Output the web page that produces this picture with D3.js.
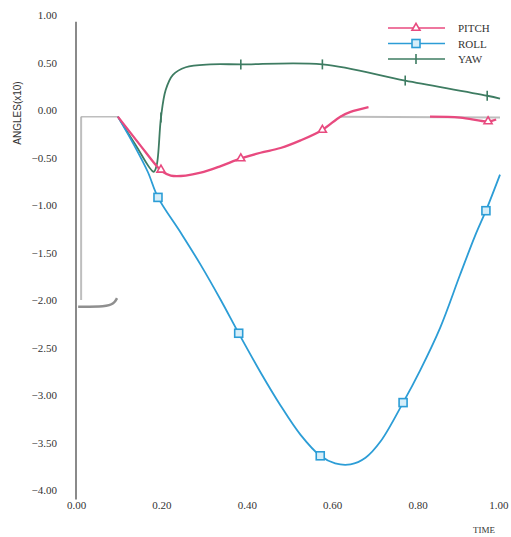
<!DOCTYPE html>
<html>
<head>
<meta charset="utf-8">
<script src="https://cdn.jsdelivr.net/npm/d3@7/dist/d3.min.js"></script>
<style>
  html, body { margin: 0; padding: 0; background: #fff; }
  svg { display: block; }
</style>
</head>
<body>
<svg id="chart" width="511" height="537"></svg>
<script>
// ---- data (time, angle x10) ----
const yTicks = [1.0, 0.5, 0.0, -0.5, -1.0, -1.5, -2.0, -2.5, -3.0, -3.5, -4.0];
const xTicks = [0.0, 0.2, 0.4, 0.6, 0.8, 1.0];
const seriesNames = ["PITCH", "ROLL", "YAW"];

const pitchTime  = [0.098, 0.152, 0.189, 0.203, 0.222, 0.257, 0.292, 0.339, 0.386, 0.432, 0.479, 0.526, 0.577, 0.619, 0.643, 0.685];
const pitchValue = [-0.07, -0.38, -0.59, -0.65, -0.69, -0.69, -0.66, -0.59, -0.51, -0.45, -0.40, -0.32, -0.21, -0.07, -0.02, 0.03];
const pitchTailTime  = [0.829, 0.900, 0.965, 0.984];
const pitchTailValue = [-0.07, -0.08, -0.12, -0.10];
const pitchMarkTime  = [0.199, 0.386, 0.577, 0.965];
const pitchMarkValue = [-0.63, -0.51, -0.21, -0.12];

const rollTime  = [0.098, 0.136, 0.168, 0.192, 0.245, 0.292, 0.339, 0.381, 0.432, 0.479, 0.526, 0.572, 0.607, 0.643, 0.678, 0.713, 0.766, 0.806, 0.853, 0.899, 0.935, 0.960, 0.993];
const rollValue = [-0.07, -0.37, -0.65, -0.92, -1.29, -1.63, -2.00, -2.35, -2.76, -3.11, -3.42, -3.64, -3.72, -3.73, -3.66, -3.49, -3.08, -2.74, -2.29, -1.74, -1.32, -1.06, -0.68];
const rollMarkTime  = [0.192, 0.381, 0.572, 0.766, 0.960];
const rollMarkValue = [-0.92, -2.35, -3.64, -3.08, -1.06];

const yawTime  = [0.098, 0.140, 0.182, 0.189, 0.199, 0.210, 0.227, 0.257, 0.315, 0.386, 0.577, 0.771, 0.963, 0.993];
const yawValue = [-0.07, -0.37, -0.65, -0.58, -0.08, 0.21, 0.37, 0.45, 0.48, 0.48, 0.48, 0.31, 0.15, 0.12];
const yawMarkTime  = [0.199, 0.386, 0.577, 0.771, 0.963];
const yawMarkValue = [-0.08, 0.48, 0.48, 0.31, 0.15];

// faint grey trace left in the plot
const traceTopTime = [0.012, 0.098];
const traceTopValue = [-0.07, -0.07];
const traceLeftTime = [0.012, 0.012];
const traceLeftValue = [-0.07, -2.00];
const traceBottomTime = [0.005, 0.070, 0.089, 0.096];
const traceBottomValue = [-2.07, -2.07, -2.04, -1.98];
const traceRightTime = [0.619, 0.993];
const traceRightValue = [-0.07, -0.08];

// ---- layout ----
const colors = { PITCH: "#e84a7f", ROLL: "#2c9dd6", YAW: "#3e7c62", trace: "#a8a8a8", axis: "#8a8a8a", text: "#333" };
const serif = "'Liberation Serif', 'DejaVu Serif', 'Times New Roman', serif";
const svg = d3.select("#chart");
const x = d3.scaleLinear().domain([0, 1]).range([76, 503]);
const y = d3.scaleLinear().domain([-4, 1]).range([490, 15]);

const zip = (ts, vs) => ts.map((t, i) => [t, vs[i]]);
const line = d3.line().x(d => x(d[0])).y(d => y(d[1])).curve(d3.curveCatmullRom.alpha(0.5));
const lineStraight = d3.line().x(d => x(d[0])).y(d => y(d[1]));

// grey trace
[[traceTopTime, traceTopValue, 1.5], [traceLeftTime, traceLeftValue, 2], [traceRightTime, traceRightValue, 2]].forEach(([t, v, w]) => {
  svg.append("path").attr("d", lineStraight(zip(t, v))).attr("fill", "none")
    .attr("stroke", colors.trace).attr("stroke-width", w).attr("opacity", 0.75);
});
svg.append("path").attr("d", d3.line().x(d => x(d[0])).y(d => y(d[1])).curve(d3.curveBasis)(zip(traceBottomTime, traceBottomValue)))
  .attr("fill", "none").attr("stroke", "#8f8f8f").attr("stroke-width", 2.5);

// y axis
const yAxis = d3.axisLeft(y).tickValues(yTicks).tickSize(0).tickPadding(0).tickFormat(d3.format(".2f"));
const gy = svg.append("g").attr("transform", `translate(${x(0)},0)`).call(yAxis);
gy.select(".domain").remove();
gy.selectAll("text").attr("x", -19).attr("fill", colors.text)
  .style("font-family", serif).style("font-size", "11px");
svg.append("line").attr("x1", x(0)).attr("x2", x(0)).attr("y1", y(0.93)).attr("y2", y(-4.1))
  .attr("stroke", colors.axis).attr("stroke-width", 2);

// x axis labels (no line)
const xAxis = d3.axisBottom(x).tickValues(xTicks).tickSize(0).tickPadding(0).tickFormat(d3.format(".2f"));
const gx = svg.append("g").attr("transform", `translate(0,${y(-4)})`).call(xAxis);
gx.select(".domain").remove();
gx.selectAll("text").attr("y", 13).attr("dy", "0.5em").attr("fill", colors.text)
  .style("font-family", serif).style("font-size", "11px")
  .filter(d => d === 1).attr("text-anchor", "end").attr("dx", 5);

svg.append("text").attr("x", 484).attr("y", 533).attr("text-anchor", "middle").attr("fill", colors.text)
  .style("font-family", serif).style("font-size", "9px").text("TIME");
svg.append("text").attr("transform", "translate(21,113) rotate(-90)").attr("text-anchor", "middle")
  .attr("fill", colors.text).style("font-family", "'Liberation Sans Narrow', 'Liberation Sans', sans-serif")
  .style("font-size", "10px").text("ANGLES(x10)");

// series lines
svg.append("path").attr("d", line(zip(yawTime, yawValue))).attr("fill", "none").attr("stroke", colors.YAW).attr("stroke-width", 1.8);
svg.append("path").attr("d", line(zip(rollTime, rollValue))).attr("fill", "none").attr("stroke", colors.ROLL).attr("stroke-width", 1.8);
svg.append("path").attr("d", line(zip(pitchTime, pitchValue))).attr("fill", "none").attr("stroke", colors.PITCH).attr("stroke-width", 2.3);
svg.append("path").attr("d", line(zip(pitchTailTime, pitchTailValue))).attr("fill", "none").attr("stroke", colors.PITCH).attr("stroke-width", 2.3);

// markers
const tri = d3.symbol().type(d3.symbolTriangle).size(28);
function pitchMark(g, cx, cy) {
  g.append("path").attr("d", tri()).attr("transform", `translate(${cx},${cy})`)
    .attr("fill", "#fff").attr("stroke", colors.PITCH).attr("stroke-width", 1.6);
}
function rollMark(g, cx, cy) {
  g.append("rect").attr("x", cx - 4).attr("y", cy - 4).attr("width", 8).attr("height", 8)
    .attr("fill", "#d6eef9").attr("stroke", colors.ROLL).attr("stroke-width", 1.6);
}
function yawMark(g, cx, cy) {
  g.append("line").attr("x1", cx).attr("x2", cx).attr("y1", cy - 5).attr("y2", cy + 5)
    .attr("stroke", colors.YAW).attr("stroke-width", 1.6);
}
const gm = svg.append("g");
zip(yawMarkTime, yawMarkValue).forEach(d => yawMark(gm, x(d[0]), y(d[1])));
zip(rollMarkTime, rollMarkValue).forEach(d => rollMark(gm, x(d[0]), y(d[1])));
zip(pitchMarkTime, pitchMarkValue).forEach(d => pitchMark(gm, x(d[0]), y(d[1])));

// legend
const markFns = { PITCH: pitchMark, ROLL: rollMark, YAW: yawMark };
const lg = svg.append("g");
seriesNames.forEach((name, i) => {
  const ly = 28 + i * 15.5;
  lg.append("line").attr("x1", 388).attr("x2", 445).attr("y1", ly).attr("y2", ly)
    .attr("stroke", colors[name]).attr("stroke-width", 1.6);
  markFns[name](lg, 416, ly);
  lg.append("text").attr("x", 458).attr("y", ly + 4).attr("fill", colors.text)
    .style("font-family", serif).style("font-size", "11px").text(name);
});
</script>
</body>
</html>
